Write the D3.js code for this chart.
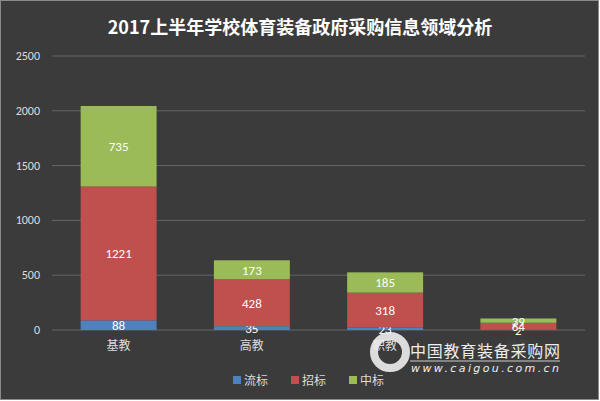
<!DOCTYPE html>
<html><head><meta charset="utf-8">
<script src="https://cdn.jsdelivr.net/npm/d3@7"></script>
<style>body{margin:0;background:#fff}</style>
</head><body>
<svg id="c" width="600" height="401"></svg>
<script>
const categories = ["基教", "高教", "职教", "幼教"];
const series = ["流标", "招标", "中标"];
const liubiao = [88, 35, 23, 2];
const zhaobiao = [1221, 428, 318, 64];
const zhongbiao = [735, 173, 185, 39];
const yTicks = [0, 500, 1000, 1500, 2000, 2500];
const colors = ["#4f81bd", "#c0504d", "#9bbb59"];

const svg = d3.select("#c");
svg.append("rect").attr("x", 0.5).attr("y", 0.5).attr("width", 598).attr("height", 399)
  .attr("fill", "#3b3b3b").attr("stroke", "#8a8a8a");

svg.append("text").attr("x", 300).attr("y", 34).attr("text-anchor", "middle")
  .attr("fill", "#fff").style("font-family", "Noto Sans CJK SC").style("font-size", "18px")
  .style("font-weight", "bold").text("2017上半年学校体育装备政府采购信息领域分析");

const x = d3.scaleBand().domain(categories).range([52, 585]).paddingInner(0.43).paddingOuter(0.215);
const y = d3.scaleLinear().domain([0, 2500]).range([330, 56]);

svg.append("g").selectAll("line").data(yTicks).join("line")
  .attr("x1", 52).attr("x2", 585).attr("y1", d => y(d)).attr("y2", d => y(d))
  .attr("stroke", "#666");
svg.append("g").selectAll("text").data(yTicks).join("text")
  .attr("x", 40).attr("y", d => y(d) + 4).attr("text-anchor", "end")
  .attr("fill", "#ddd").style("font-family", "Calibri, Carlito, 'Liberation Sans'").style("font-size", "12px")
  .text(d => d);

const rows = categories.map((c, i) => ({ cat: c, vals: [liubiao[i], zhaobiao[i], zhongbiao[i]] }));
const stack = d3.stack().keys([0, 1, 2]).value((d, k) => d.vals[k])(rows);

stack.forEach((layer, k) => {
  const g = svg.append("g");
  g.selectAll("rect").data(layer).join("rect")
    .attr("x", d => x(d.data.cat)).attr("width", x.bandwidth())
    .attr("y", d => y(d[1])).attr("height", d => y(d[0]) - y(d[1]))
    .attr("fill", colors[k]);
  g.selectAll("text").data(layer).join("text")
    .attr("x", d => x(d.data.cat) + x.bandwidth() / 2)
    .attr("y", d => (y(d[0]) + y(d[1])) / 2 + 5)
    .attr("text-anchor", "middle").attr("fill", "#fff")
    .style("font-family", "Calibri, Carlito, 'Liberation Sans'").style("font-size", "13px")
    .text(d => d.data.vals[k]);
});

svg.append("g").selectAll("text").data(categories).join("text")
  .attr("x", d => x(d) + x.bandwidth() / 2).attr("y", 350).attr("text-anchor", "middle")
  .attr("fill", "#ddd").style("font-family", "Noto Sans CJK SC").style("font-size", "12px")
  .text(d => d);

const lg = svg.append("g").selectAll("g").data(series).join("g")
  .attr("transform", (d, i) => `translate(${233 + i * 58},381)`);
lg.append("rect").attr("x", 0).attr("y", -5).attr("width", 8).attr("height", 8).attr("fill", (d, i) => colors[i]);
lg.append("text").attr("x", 11).attr("y", 4).attr("fill", "#ddd")
  .style("font-family", "Noto Sans CJK SC").style("font-size", "12px").text(d => d);

// watermark
const wm = svg.append("g");
wm.append("rect").attr("x", 408).attr("y", 336).attr("width", 160).attr("height", 40).attr("fill", "#3b3b3b").attr("opacity", 0.95);
wm.append("circle").attr("cx", 390).attr("cy", 352).attr("r", 16).attr("fill", "none")
  .attr("stroke", "#eee").attr("stroke-width", 8).attr("opacity", 0.9);
wm.append("text").attr("x", 410).attr("y", 357).attr("fill", "#eee").attr("textLength", 150)
  .style("font-family", "Noto Sans CJK SC").style("font-size", "16px").text("中国教育装备采购网");
wm.append("line").attr("x1", 410).attr("x2", 560).attr("y1", 361).attr("y2", 361).attr("stroke", "#ccc");
wm.append("text").attr("x", 411).attr("y", 372).attr("fill", "#eee").attr("textLength", 148)
  .style("font-family", "'DejaVu Sans'").style("font-size", "11px").style("font-style", "italic")
  .text("www.caigou.com.cn");
</script>
</body></html>
